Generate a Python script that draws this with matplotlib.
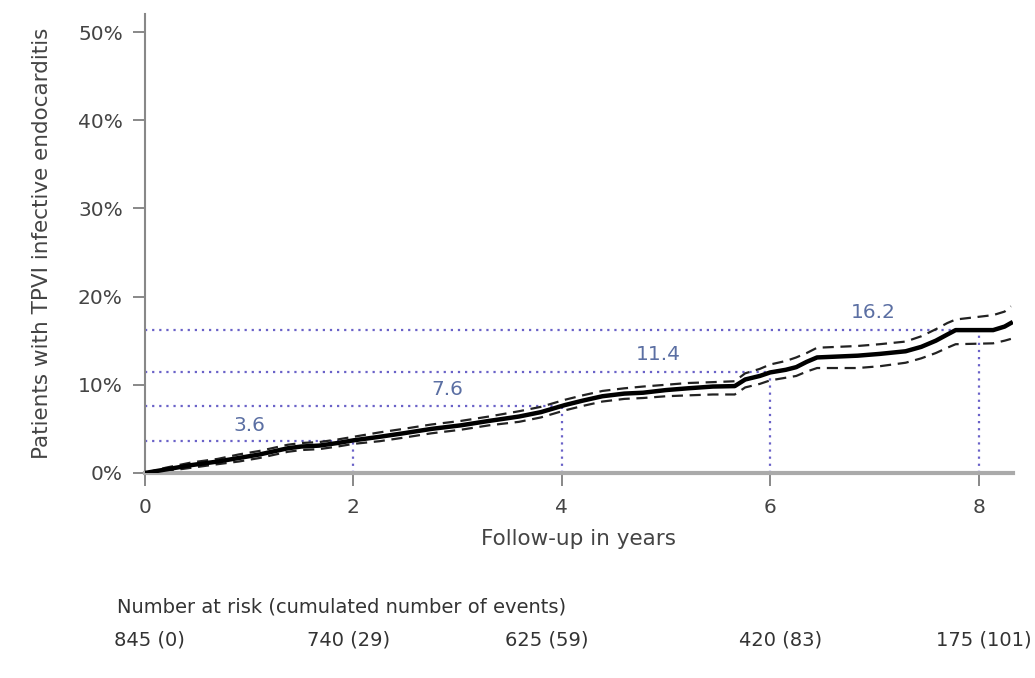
import matplotlib
matplotlib.use('Agg')
import matplotlib.pyplot as plt
import matplotlib.transforms as mtransforms

# cumulative incidence of TPVI infective endocarditis (% of patients)
years = [0, 0.2, 0.45, 0.7, 0.9, 1.1, 1.37, 1.5, 1.67, 1.85,
         2.0, 2.25, 2.48, 2.75, 3.03, 3.3, 3.59, 3.8, 4.03, 4.2,
         4.39, 4.6, 4.78, 5.0, 5.21, 5.45, 5.66, 5.76, 5.9, 6.0,
         6.15, 6.25, 6.35, 6.45, 6.84, 7.05, 7.3, 7.45, 7.59, 7.7,
         7.78, 8.14, 8.25, 8.31]
incidence = [0, 0.4, 0.9, 1.3, 1.7, 2.1, 2.8, 3.0, 3.1, 3.4,
             3.7, 4.1, 4.5, 5.0, 5.4, 5.9, 6.4, 6.9, 7.7, 8.2,
             8.7, 9.0, 9.1, 9.4, 9.6, 9.8, 9.85, 10.6, 11.0, 11.4,
             11.7, 12.0, 12.6, 13.1, 13.3, 13.5, 13.8, 14.3, 15.0, 15.7,
             16.2, 16.2, 16.6, 17.0]
ci_upper = [0, 0.6, 1.2, 1.6, 2.1, 2.5, 3.2, 3.4, 3.5, 3.8,
            4.1, 4.6, 5.0, 5.5, 5.9, 6.4, 7.0, 7.5, 8.3, 8.8,
            9.3, 9.6, 9.8, 10.0, 10.2, 10.3, 10.4, 11.3, 11.8, 12.3,
            12.7, 13.1, 13.6, 14.2, 14.4, 14.6, 14.9, 15.5, 16.3, 17.0,
            17.4, 17.9, 18.3, 18.9]
ci_lower = [0, 0.2, 0.6, 1.0, 1.3, 1.7, 2.4, 2.6, 2.7, 3.0,
            3.3, 3.6, 4.0, 4.5, 4.9, 5.4, 5.8, 6.3, 7.1, 7.6,
            8.1, 8.4, 8.5, 8.7, 8.8, 8.9, 8.9, 9.7, 10.1, 10.5,
            10.8, 11.0, 11.5, 11.9, 11.9, 12.1, 12.5, 13.0, 13.6, 14.2,
            14.6, 14.7, 15.0, 15.2]

# estimates marked at 2, 4, 6 and 8 years
mark_years = [2, 4, 6, 8]
mark_values = [3.6, 7.6, 11.4, 16.2]
mark_labels = ['3.6', '7.6', '11.4', '16.2']

# number at risk table
risk_years = [0, 2, 4, 6, 8]
at_risk = [845, 740, 625, 420, 175]
events = [0, 29, 59, 83, 101]

y_ticks = [0, 10, 20, 30, 40, 50]
x_ticks = [0, 2, 4, 6, 8]

# where the estimate labels sit (years, %)
label_pos = [(1.0, 5.4), (2.9, 9.5), (4.93, 13.4), (6.99, 18.2)]
# centres of the risk table entries (years)
risk_pos = [0.04, 1.95, 3.86, 6.1, 8.05]

fig = plt.figure(figsize=(10.35, 6.78), dpi=100)
ax = fig.add_axes([0.1401, 0.3024, 0.8386, 0.6764])

dot_col = '#6a62c8'
for yr, val in zip(mark_years, mark_values):
    ax.plot([0, yr], [val, val], color=dot_col, lw=1.6, ls=(0, (1, 2.2)), zorder=1)
    ax.plot([yr, yr], [0, val], color=dot_col, lw=1.6, ls=(0, (1, 2.2)), zorder=1)
for (lx, ly), txt in zip(label_pos, mark_labels):
    ax.text(lx, ly, txt, color='#5b6fa3', fontsize=14.5, ha='center', va='center')

ax.plot(years, ci_upper, color='#222222', lw=1.6, ls=(0, (5, 3)), zorder=2)
ax.plot(years, ci_lower, color='#222222', lw=1.6, ls=(0, (5, 3)), zorder=2)
ax.plot(years, incidence, color='black', lw=3.2, zorder=3)

ax.set_xlim(0, 8.33)
ax.set_ylim(0, 52)
ax.set_xticks(x_ticks)
ax.set_yticks(y_ticks)
ax.set_yticklabels([f'{v}%' for v in y_ticks])

for s in ['top', 'right']:
    ax.spines[s].set_visible(False)
ax.spines['left'].set_color('#888888')
ax.spines['left'].set_linewidth(1.5)
ax.spines['bottom'].set_color('#aaaaaa')
ax.spines['bottom'].set_linewidth(3)
ax.tick_params(axis='both', direction='out', length=9, width=1.4, color='#888888',
               labelsize=14.5, labelcolor='#444444')
ax.tick_params(axis='x', pad=9)
ax.tick_params(axis='y', pad=7)

ax.set_xlabel('Follow-up in years', fontsize=15.5, color='#444444', labelpad=9)
ax.set_ylabel('Patients with TPVI infective endocarditis', fontsize=15.5,
              color='#444444', labelpad=19)

# number at risk below the axis
trans = mtransforms.blended_transform_factory(ax.transData, fig.transFigure)
fig.text(0.113, 0.105, 'Number at risk (cumulated number of events)',
         fontsize=14, color='#333333', va='center')
for xp, n, ev in zip(risk_pos, at_risk, events):
    ax.text(xp, 0.056, f'{n} ({ev})', transform=trans, ha='center', va='center',
            fontsize=14, color='#333333', clip_on=False)

fig.savefig('out.png', dpi=100)
